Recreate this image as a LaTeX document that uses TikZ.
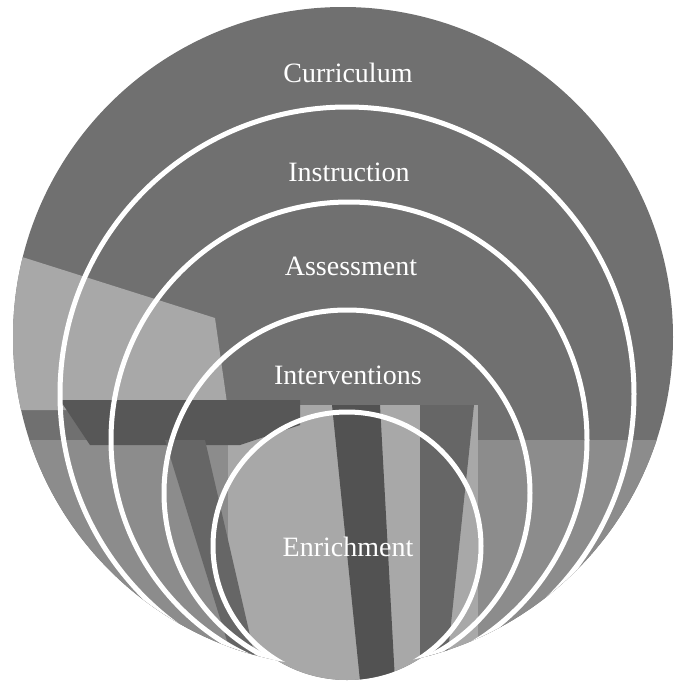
\documentclass[tikz,border=0pt]{standalone}
\usepackage{fontspec}
\setmainfont{Liberation Serif}
\usetikzlibrary{positioning}

\begin{document}
\begin{tikzpicture}[
  x=1pt, y=-1pt,
  ring/.style={draw=white, line width=5pt},
  lbl/.style={text=white, font=\fontsize{28}{30}\selectfont, inner sep=0pt},
  dk/.style={fill=black!60},
  md/.style={fill=black!45},
  lt/.style={fill=black!34},
]
\useasboundingbox (0,0) rectangle (676,681);

% backdrop, the outer disc plus the bulge of the inner one
\begin{scope}
\clip (343,337) circle (330) (347,546) circle (134);
\fill[black!56] (0,0) rectangle (676,681);
\fill[lt] (0,250) -- (215,318) -- (228,410) -- (0,410) -- cycle;
\fill[md] (0,440) -- (228,440) -- (228,681) -- (0,681) -- cycle;
\fill[lt] (228,405) -- (478,405) -- (478,681) -- (228,681) -- cycle;
\fill[md] (478,440) -- (676,440) -- (676,681) -- (478,681) -- cycle;
\fill[black!66] (60,400) -- (300,400) -- (300,425) -- (240,445) -- (90,445) -- cycle;
\fill[black!68] (332,405) -- (380,405) -- (395,681) -- (360,681) -- cycle;
\fill[dk] (420,405) -- (474,405) -- (445,681) -- (420,681) -- cycle;
\fill[dk] (165,440) -- (205,440) -- (258,670) -- (236,670) -- cycle;
\end{scope}

% rings, kept inside the outer disc
\begin{scope}
\clip (343,337) circle (330);
\draw[ring] (347,394) circle (287);
\draw[ring] (349,440) circle (238);
\draw[ring] (347,493) circle (183);
\draw[ring] (347,546) circle (134);
\end{scope}

% labels
\node[lbl] (curriculum) at (348,73) {Curriculum};
\node[lbl] (instruction) at (349,172) {Instruction};
\node[lbl] (assessment) at (351,266) {Assessment};
\node[lbl] (interventions) at (348,375) {Interventions};
\node[lbl] (enrichment) at (348,547) {Enrichment};

\end{tikzpicture}
\end{document}
